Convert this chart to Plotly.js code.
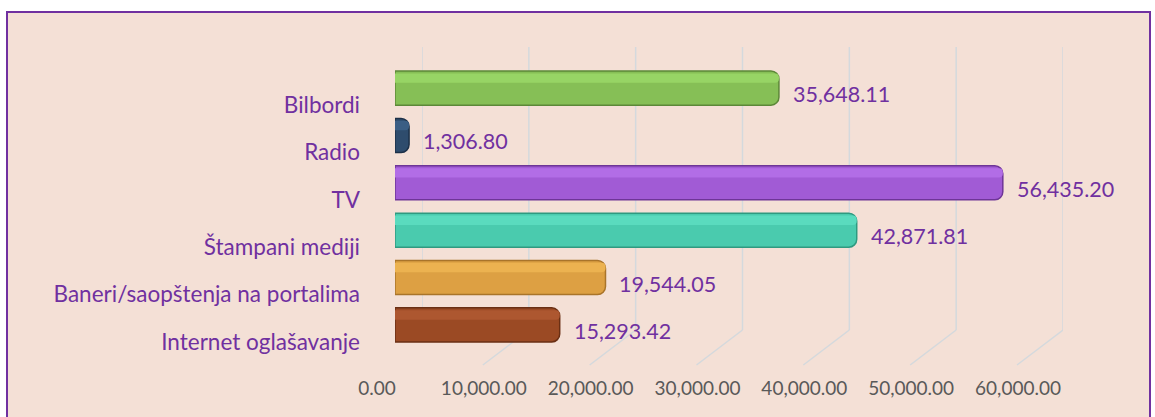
<!DOCTYPE html>
<html><head><meta charset="utf-8">
<script src="https://cdn.plot.ly/plotly-3.0.1.min.js"></script>
<style>html,body{margin:0;padding:0;background:#fff}#chart{width:1155px;height:417px}</style>
</head><body><div id="chart"></div>
<script>
const categories = ["Bilbordi", "Radio", "TV", "Štampani mediji", "Baneri/saopštenja na portalima", "Internet oglašavanje"];
const values = [35648.11, 1306.80, 56435.20, 42871.81, 19544.05, 15293.42];
const tickValues = [0, 10000, 20000, 30000, 40000, 50000, 60000];
const barColors = ["#86BF56", "#2E4C6D", "#A15BD5", "#4ACBAE", "#DDA043", "#9B4A24"];
const barEdges = ["#5C8838", "#1C3048", "#6E3597", "#2F9A80", "#A9742A", "#6A2F14"];
const barHighlights = ["#97D465", "#3B5E84", "#B26DE6", "#5ADBBE", "#ECB250", "#AD5730"];

const W = 1155, H = 417;
const px = x => x / W;
const py = y => 1 - y / H;
const purple = "#7030A0";
const FONT = "Lato, 'Open Sans', sans-serif";

const fmt = v => v.toLocaleString("en-US", {minimumFractionDigits: 2, maximumFractionDigits: 2});

const trace = {
  type: "bar", orientation: "h",
  x: values, y: categories,
  xaxis: "x", yaxis: "y",
  marker: {color: barColors, line: {color: barEdges, width: 1.5}},
  hoverinfo: "x+y"
};
const highlight = {
  type: "bar", orientation: "h",
  x: values, y: categories,
  xaxis: "x", yaxis: "y",
  width: 0.2, offset: -0.31,
  marker: {color: barHighlights, line: {width: 0}},
  hoverinfo: "skip"
};

const shapes = [{
  type: "rect", xref: "paper", yref: "paper",
  x0: px(7), x1: px(1150), y0: py(430), y1: py(12),
  fillcolor: "#F4E0D6", line: {color: purple, width: 2}, layer: "below"
}];
tickValues.forEach(v => {
  shapes.push({type: "line", xref: "x2", yref: "paper", x0: v, x1: v, y0: py(330), y1: py(47),
    line: {color: "#D4D9DD", width: 1.5}, layer: "below"});
  shapes.push({type: "line", xref: "x2", yref: "paper", xsizemode: "pixel", xanchor: v,
    x0: -46, x1: 0, y0: py(365), y1: py(330),
    line: {color: "#D4D9DD", width: 1.5}, layer: "below"});
});

const annotations = values.map((v, i) => ({
  x: v, y: categories[i], xref: "x", yref: "y",
  text: fmt(v), showarrow: false, xanchor: "left", yanchor: "middle",
  xshift: 12, yshift: -6,
  font: {family: FONT, size: 21.5, color: purple}
}));

const layout = {
  width: W, height: H,
  margin: {l: 0, r: 0, t: 0, b: 0},
  paper_bgcolor: "#FFFFFF", plot_bgcolor: "rgba(0,0,0,0)",
  showlegend: false,
  barmode: "overlay",
  bargap: 0.28,
  barcornerradius: 8,
  xaxis: {domain: [px(395), px(1041.2)], range: [0, 60000], showgrid: false, zeroline: false,
    showline: false, showticklabels: false, ticks: "", fixedrange: true},
  xaxis2: {domain: [px(422), px(1063)], range: [0, 60000], anchor: "free",
    position: py(375), side: "bottom", showgrid: false, zeroline: false, showline: false,
    tickmode: "array", tickvals: tickValues, ticktext: tickValues.map(fmt),
    ticklabelshift: -45, ticks: "",
    tickfont: {family: FONT, size: 19, color: "#595959"}},
  yaxis: {domain: [py(348.6), py(64.4)], autorange: "reversed", type: "category",
    showgrid: false, zeroline: false, showline: false, ticks: "",
    ticklabelstandoff: 34, ticklabelshift: -17,
    tickfont: {family: FONT, size: 22.5, color: purple}},
  shapes: shapes,
  annotations: annotations
};

// invisible trace so that xaxis2 is drawn
const axisTrace = {type: "scatter", x: [0, 60000], y: [categories[0], categories[0]], xaxis: "x2", yaxis: "y",
  mode: "markers", marker: {opacity: 0}, hoverinfo: "skip"};

Plotly.newPlot("chart", [trace, highlight, axisTrace], layout, {displayModeBar: false, staticPlot: true});
</script></body></html>
